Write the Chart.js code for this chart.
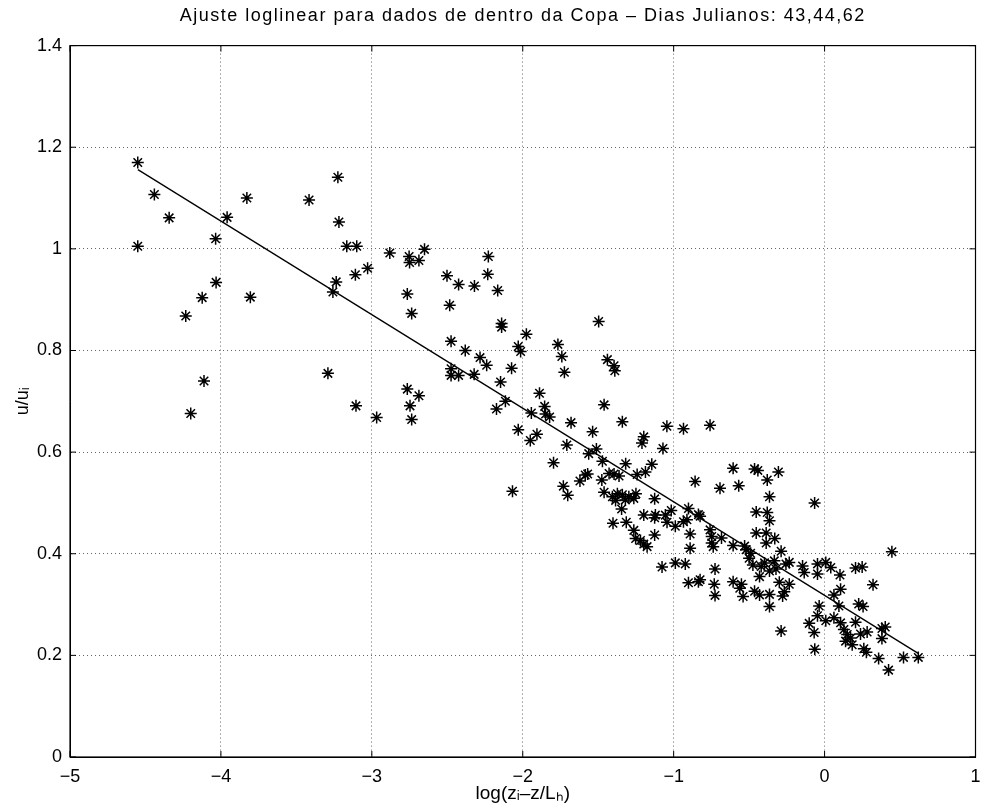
<!DOCTYPE html>
<html>
<head>
<meta charset="utf-8">
<script src="https://cdn.jsdelivr.net/npm/chart.js@4"></script>
<style>
  html, body { margin: 0; padding: 0; background: #fff; }
  #wrap { width: 983px; height: 811px; }
</style>
</head>
<body>
<div id="wrap"><canvas id="c" width="983" height="811"></canvas></div>
<script>
// ---- data ----
const titleText = "Ajuste loglinear para dados de dentro da Copa – Dias Julianos: 43,44,62";
const xTitle = "log(zᵢ–z/Lₕ)";
const yTitle = "u/uᵢ";

const xVals = [
  -4.551,-4.441,-4.343,-4.551,-3.959,-4.035,-3.828,-4.032,-4.124,-4.233,-3.805,-4.112,-4.200,
  -3.416,-3.225,-3.218,-3.166,-3.100,-2.881,-3.109,-3.028,-3.236,-3.258,-3.291,-3.105,-2.968,
  -2.753,-2.750,-2.688,-2.651,-2.502,-2.425,-2.320,-2.228,-2.232,-2.166,-2.765,-2.736,-2.484,
  -2.140,-2.140,-1.976,-2.475,-2.381,-2.283,-2.239,-2.030,-2.014,-1.767,-1.741,-1.724,-2.475,
  -2.475,-2.425,-2.322,-2.074,-2.147,-1.497,-1.439,-1.395,-1.390,-2.765,-2.688,-1.889,
  -2.747,-2.736,-2.174,-2.115,-1.855,-1.943,-1.849,-1.822,-2.030,-1.906,-1.950,-1.680,-1.537,
  -1.708,-1.563,-1.796,-1.586,-1.621,-1.731,-1.702,-2.068,
  -1.461,-1.340,-1.198,-1.210,-1.045,-0.935,-0.759,-1.071,-1.512,-1.318,-1.472,-1.145,-1.187,
  -1.242,-1.428,-1.362,-1.395,-1.476,-1.570,-0.858,-0.693,-0.569,-0.606,-0.464,-0.442,-0.380,
  -0.365,-1.461,-1.406,-1.373,-1.340,-1.297,-1.264,-1.385,-1.320,-1.250,-1.345,-1.126,-0.902,
  -1.016,-1.198,-1.121,-1.055,-0.453,-0.380,-0.836,
  -1.402,-1.314,-1.126,-1.044,-0.989,-0.935,-0.912,-0.825,-1.264,-1.252,-1.220,-1.198,-1.176,
  -1.126,-0.891,-0.891,-0.759,-0.748,-0.748,-0.738,-0.683,-1.077,-0.989,-0.923,-0.726,-0.902,
  -0.825,-0.836,-0.731,-0.726,-0.606,-0.530,-0.520,-0.490,-0.500,-0.453,-0.387,-0.387,-0.475,
  -0.420,-0.431,-0.365,-0.606,-0.551,-0.562,-0.464,-0.431,-0.365,-0.540,-0.365,
  -0.306,-0.066,-0.365,-0.330,-0.288,0.446,
  -0.146,-0.135,-0.047,0.008,0.041,-0.047,0.102,0.205,0.249,0.321,-0.398,-0.333,-0.256,-0.234,
  -0.322,-0.300,-0.234,-0.278,-0.267,-0.288,0.106,0.062,0.095,0.226,0.255,-0.036,-0.047,0.008,
  -0.102,-0.069,-0.065,0.062,0.106,0.128,0.150,0.139,0.172,0.183,0.205,0.238,0.282,0.260,0.277,
  0.380,0.402,0.380,0.358,0.424,0.523,0.621
];
const yVals = [
  1.170,1.107,1.061,1.005,1.062,1.020,1.100,0.934,0.904,0.868,0.905,0.740,0.676,
  1.096,1.141,1.053,1.005,1.005,0.992,0.949,0.962,0.935,0.915,0.755,0.691,0.668,
  0.985,0.973,0.977,0.999,0.947,0.930,0.927,0.985,0.950,0.918,0.911,0.873,0.889,
  0.853,0.846,0.832,0.818,0.800,0.786,0.771,0.808,0.798,0.812,0.788,0.757,0.764,
  0.751,0.751,0.753,0.765,0.738,0.857,0.782,0.770,0.760,0.724,0.711,0.716,
  0.691,0.664,0.685,0.700,0.690,0.677,0.675,0.669,0.644,0.635,0.623,0.658,0.640,
  0.614,0.597,0.579,0.555,0.543,0.533,0.515,0.523,
  0.693,0.660,0.630,0.618,0.651,0.646,0.653,0.607,0.606,0.577,0.582,0.576,0.561,
  0.556,0.558,0.553,0.557,0.545,0.557,0.542,0.529,0.534,0.568,0.567,0.564,0.545,
  0.512,0.521,0.512,0.518,0.516,0.512,0.509,0.505,0.506,0.518,0.488,0.508,0.489,
  0.485,0.476,0.476,0.476,0.482,0.481,0.477,
  0.460,0.462,0.471,0.462,0.454,0.463,0.467,0.474,0.446,0.430,0.426,0.419,0.414,
  0.437,0.439,0.411,0.447,0.434,0.421,0.414,0.431,0.374,0.382,0.380,0.370,0.343,
  0.349,0.345,0.340,0.318,0.416,0.415,0.408,0.401,0.391,0.441,0.441,0.421,0.378,
  0.375,0.355,0.366,0.345,0.340,0.332,0.326,0.319,0.320,0.316,0.296,
  0.561,0.500,0.465,0.430,0.405,0.404,
  0.376,0.363,0.380,0.383,0.373,0.360,0.358,0.372,0.374,0.339,0.382,0.386,0.380,0.383,
  0.370,0.344,0.340,0.317,0.325,0.248,0.330,0.319,0.297,0.301,0.296,0.297,0.278,0.268,
  0.263,0.245,0.212,0.274,0.264,0.251,0.241,0.228,0.234,0.221,0.265,0.242,0.246,0.213,0.206,
  0.253,0.256,0.233,0.194,0.171,0.196,0.196
];
// fitted loglinear line (end points)
const fitX = [-4.55, 0.62];
const fitY = [1.156, 0.204];

const xTicks = [-5, -4, -3, -2, -1, 0, 1];
const yTicks = [0, 0.2, 0.4, 0.6, 0.8, 1, 1.2, 1.4];

// ---- build chart ----
const points = xVals.map((x, i) => ({ x: x, y: yVals[i] }));
const fitPts = fitX.map((x, i) => ({ x: x, y: fitY[i] }));

const FONT = "'Liberation Sans', Arial, Helvetica, sans-serif";

function spaced(box, px) {
  if (!box || box._spaced) return;
  const orig = box.draw.bind(box);
  box.draw = function (area) {
    const c = this.ctx;
    const prev = c.letterSpacing;
    try { c.letterSpacing = px; } catch (e) {}
    orig(area);
    try { c.letterSpacing = prev || '0px'; } catch (e) {}
  };
  box._spaced = true;
}

const framePlugin = {
  id: 'frame',
  afterInit(chart) {
    spaced(chart.titleBlock, '1.5px');
  },
  afterDraw(chart) {
    const { ctx, chartArea: a, scales } = chart;
    ctx.save();
    ctx.strokeStyle = '#000';
    ctx.lineWidth = 1.2;
    ctx.setLineDash([]);
    ctx.strokeRect(a.left, a.top, a.right - a.left, a.bottom - a.top);
    const tl = 6;
    ctx.lineWidth = 1;
    ctx.beginPath();
    xTicks.forEach(v => {
      const px = scales.x.getPixelForValue(v);
      ctx.moveTo(px, a.bottom); ctx.lineTo(px, a.bottom - tl);
      ctx.moveTo(px, a.top); ctx.lineTo(px, a.top + tl);
    });
    yTicks.forEach(v => {
      const py = scales.y.getPixelForValue(v);
      ctx.moveTo(a.left, py); ctx.lineTo(a.left + tl, py);
      ctx.moveTo(a.right, py); ctx.lineTo(a.right - tl, py);
    });
    ctx.stroke();
    ctx.restore();
  }
};

const fmt = v => {
  const s = String(+(+v).toFixed(1));
  return s.replace('-', '\u2212');
};

new Chart(document.getElementById('c'), {
  type: 'scatter',
  data: {
    datasets: [
      {
        label: 'dados',
        data: points,
        pointStyle: 'star',
        pointRadius: 6,
        pointBorderWidth: 1.5,
        borderColor: '#000',
        backgroundColor: '#000',
        showLine: false
      },
      {
        type: 'line',
        label: 'ajuste',
        data: fitPts,
        showLine: true,
        borderColor: '#000',
        borderWidth: 1.3,
        pointRadius: 0,
        fill: false,
        tension: 0
      }
    ]
  },
  options: {
    responsive: false,
    animation: false,
    devicePixelRatio: 1,
    layout: { padding: { left: 8, right: 1, top: 0, bottom: 2 } },
    plugins: {
      legend: { display: false },
      tooltip: { enabled: false },
      title: {
        display: true,
        text: titleText,
        color: '#000',
        fullSize: false,
        font: { family: FONT, size: 18, weight: 'normal' },
        padding: { top: 5, bottom: 19 }
      }
    },
    scales: {
      x: {
        type: 'linear',
        min: -5, max: 1,
        afterBuildTicks: s => { s.ticks = xTicks.map(v => ({ value: v })); },
        afterFit: s => { s.height = 52; s.paddingLeft = 0; s.paddingRight = 0; },
        ticks: { color: '#000', font: { family: FONT, size: 18 }, padding: 9, callback: fmt, maxRotation: 0, autoSkip: false },
        grid: { color: 'rgba(0,0,0,0.6)', lineWidth: 1, drawTicks: false },
        border: { display: true, color: '#000', width: 1, dash: [1, 3] },
        title: { display: true, text: xTitle, color: '#000', font: { family: FONT, size: 19 }, padding: { top: 0, bottom: 4 } }
      },
      y: {
        type: 'linear',
        min: 0, max: 1.4,
        afterBuildTicks: s => { s.ticks = yTicks.map(v => ({ value: v })); },
        afterFit: s => { s.width = 62; s.paddingTop = 0; s.paddingBottom = 0; },
        ticks: { color: '#000', font: { family: FONT, size: 18 }, padding: 8, callback: fmt, autoSkip: false },
        grid: { color: 'rgba(0,0,0,0.6)', lineWidth: 1, drawTicks: false },
        border: { display: true, color: '#000', width: 1, dash: [1, 3] },
        title: { display: true, text: yTitle, color: '#000', font: { family: FONT, size: 18 }, padding: { top: 4, bottom: 0 } }
      }
    }
  },
  plugins: [framePlugin]
});
</script>
</body>
</html>
